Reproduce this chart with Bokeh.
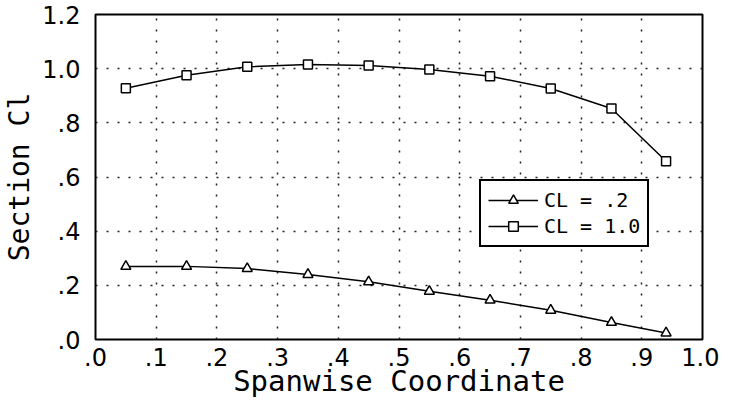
from bokeh.plotting import figure
from bokeh.models import FixedTicker, Legend
from bokeh.embed import file_html
from bokeh.resources import INLINE

# ---- data ----
span = [0.05, 0.15, 0.25, 0.35, 0.45, 0.55, 0.65, 0.75, 0.85, 0.94]
cl_02 = [0.270, 0.270, 0.262, 0.240, 0.213, 0.178, 0.145, 0.108, 0.063, 0.024]
cl_10 = [0.928, 0.976, 1.007, 1.015, 1.012, 0.997, 0.972, 0.927, 0.853, 0.658]

x_tick_values = [0.0, 0.1, 0.2, 0.3, 0.4, 0.5, 0.6, 0.7, 0.8, 0.9, 1.0]
x_tick_labels = [".0", ".1", ".2", ".3", ".4", ".5", ".6", ".7", ".8", ".9", "1.0"]
y_tick_values = [0.0, 0.2, 0.4, 0.6, 0.8, 1.0, 1.2]
y_tick_labels = [".0", ".2", ".4", ".6", ".8", "1.0", "1.2"]

series_labels = ["CL = .2", "CL = 1.0"]

p = figure(width=719, height=403, x_range=(0, 1), y_range=(0, 1.2),
           output_backend="svg", toolbar_location=None,
           min_border_left=95, min_border_right=17, min_border_top=14,
           min_border_bottom=64)
p.background_fill_color = "white"
p.border_fill_color = "white"
p.outline_line_color = "black"
p.outline_line_width = 2

# axes
for ax in (p.xaxis[0], p.yaxis[0]):
    ax.axis_line_color = None
    ax.major_tick_line_color = None
    ax.minor_tick_line_color = None
    ax.major_tick_out = 0
    ax.major_tick_in = 0
    ax.major_label_text_font = "DejaVu Sans"
    ax.major_label_text_font_size = "24px"
    ax.major_label_text_color = "black"
    ax.axis_label_text_font = "DejaVu Sans Mono"
    ax.axis_label_text_font_style = "normal"
    ax.axis_label_text_color = "black"

p.xaxis.axis_label_text_font_size = "29px"
p.yaxis.axis_label_text_font_size = "28px"
p.xaxis.ticker = FixedTicker(ticks=x_tick_values)
p.yaxis.ticker = FixedTicker(ticks=y_tick_values)
p.xaxis.major_label_overrides = dict(zip(x_tick_values, x_tick_labels))
p.yaxis.major_label_overrides = dict(zip(y_tick_values, y_tick_labels))
p.xaxis.axis_label = "Spanwise Coordinate"
p.yaxis.axis_label = "Section Cl"
p.xaxis.major_label_standoff = 8
p.xaxis.axis_label_standoff = -5
p.yaxis.major_label_standoff = 15
p.yaxis.axis_label_standoff = 3

# grid
for g in (p.xgrid[0], p.ygrid[0]):
    g.grid_line_color = "#222222"
    g.grid_line_width = 1.5
    g.grid_line_dash = "2 9"

# series
l1 = p.line(span, cl_02, line_color="black", line_width=1.5)
s1 = p.scatter(span, cl_02, marker="triangle", size=10, fill_color="white",
               line_color="black", line_width=1.5)
l2 = p.line(span, cl_10, line_color="black", line_width=1.5)
s2 = p.scatter(span, cl_10, marker="square", size=9, fill_color="white",
               line_color="black", line_width=1.5)

legend = Legend(items=[(series_labels[0], [l1, s1]), (series_labels[1], [l2, s2])],
                location=(384, 92))
legend.border_line_color = "black"
legend.border_line_alpha = 1
legend.border_line_width = 2
legend.background_fill_color = "white"
legend.background_fill_alpha = 1
legend.label_text_font = "DejaVu Sans Mono"
legend.label_text_font_size = "20px"
legend.label_text_color = "black"
legend.glyph_width = 50
legend.glyph_height = 24
legend.label_height = 24
legend.label_standoff = 6
legend.padding = 7
legend.spacing = 2
legend.margin = 0
p.add_layout(legend)

open("out.html", "w").write(file_html(p, INLINE))
